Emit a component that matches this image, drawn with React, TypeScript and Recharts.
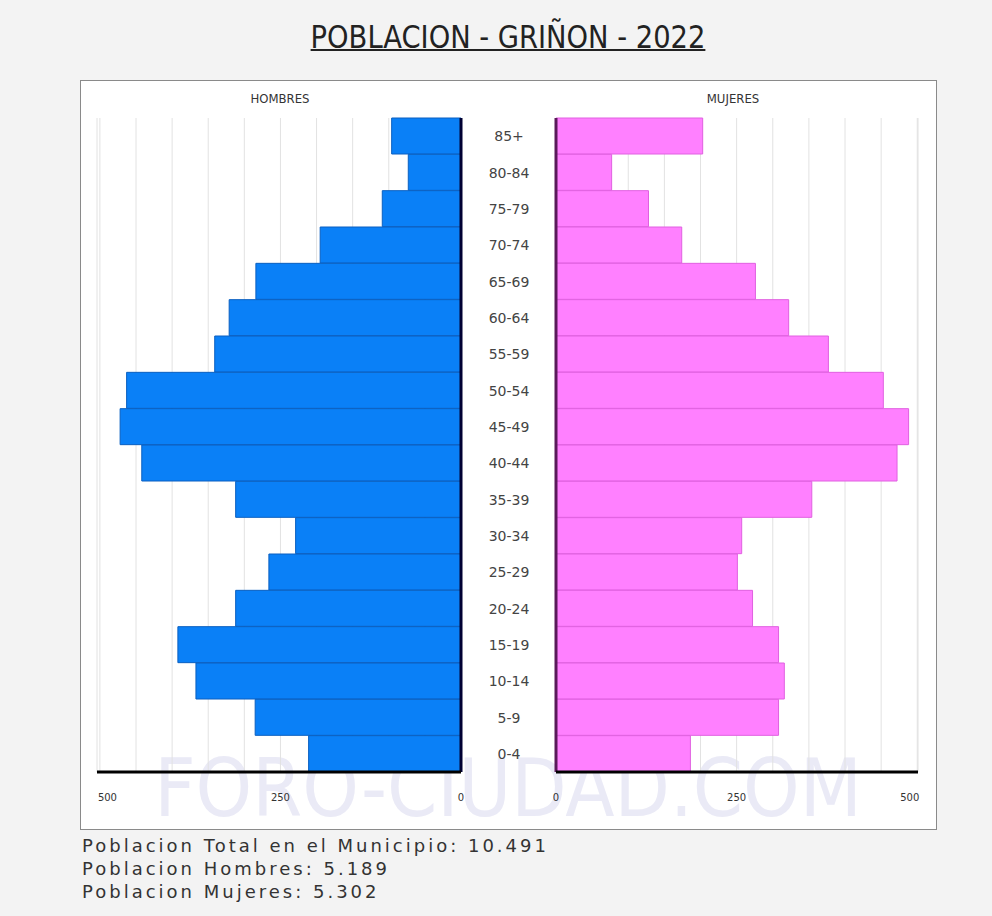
import {
  BarChart,
  Bar,
  XAxis,
  YAxis,
  CartesianGrid,
  ReferenceLine,
} from "recharts";

const ageGroups = [
  "85+", "80-84", "75-79", "70-74", "65-69", "60-64", "55-59", "50-54", "45-49",
  "40-44", "35-39", "30-34", "25-29", "20-24", "15-19", "10-14", "5-9", "0-4",
];
const hombres = [96, 73, 109, 195, 284, 321, 341, 463, 472, 442, 312, 229, 266, 312, 392, 367, 285, 211];
const mujeres = [203, 77, 128, 174, 276, 322, 377, 453, 488, 472, 354, 257, 251, 272, 308, 316, 308, 186];
const gridTicks = [0, 50, 100, 150, 200, 250, 300, 350, 400, 450, 500];
const labelTicks = [0, 250, 500];

const data = ageGroups.map((age, i) => ({ age, hombres: hombres[i], mujeres: mujeres[i] }));

const W = 992;
const H = 916;
const FONT = "'DejaVu Sans', Verdana, sans-serif";
const COND = "'DejaVu Sans Condensed', 'DejaVu Sans', sans-serif";

// small tick labels under the axis; the outer "500" is kept inside the panel
function makeTick(side: "left" | "right") {
  return (props: any) => {
    const { x, y, payload } = props;
    const v = payload.value;
    if (!labelTicks.includes(v)) return <g />;
    let anchor: "start" | "middle" | "end" = "middle";
    if (v === 500) anchor = side === "left" ? "start" : "end";
    const dx = v === 500 ? (side === "left" ? -2 : 2) : 0;
    return (
      <text x={x + dx} y={y + 21} textAnchor={anchor} fontSize={10} fill="#333" fontFamily={FONT}>
        {v}
      </text>
    );
  };
}

function AgeTick(props: any) {
  const { y, payload } = props;
  return (
    <text x={509} y={y + 5} textAnchor="middle" fontSize={14} fill="#444" fontFamily={FONT}>
      {payload.value}
    </text>
  );
}

export default function App() {
  return (
    <div
      style={{
        position: "fixed",
        left: 0,
        top: 0,
        width: W,
        height: H,
        background: "#f3f3f3",
        fontFamily: FONT,
        overflow: "hidden",
      }}
    >
      <div
        style={{
          position: "absolute",
          left: 0,
          width: 1016,
          top: 18,
          textAlign: "center",
          fontFamily: COND,
          fontSize: 32,
          color: "#222",
          textDecoration: "underline",
          textDecorationThickness: 2,
          transform: "scaleX(0.95)",
        }}
      >
        POBLACION - GRIÑON - 2022
      </div>

      <div
        style={{
          position: "absolute",
          left: 80,
          top: 80,
          width: 855,
          height: 748,
          background: "#fff",
          border: "1px solid #8a8a8a",
        }}
      />

      <div
        style={{
          position: "absolute",
          left: 80,
          top: 742,
          width: 856,
          textAlign: "center",
          fontSize: 80,
          color: "#eaeaf6",
          fontFamily: COND,
          whiteSpace: "nowrap",
        }}
      >
        FORO-CIUDAD.COM
      </div>

      <div style={{ position: "absolute", left: 230, width: 100, top: 91, textAlign: "center", fontSize: 13, color: "#333", fontFamily: COND }}>
        HOMBRES
      </div>
      <div style={{ position: "absolute", left: 683, width: 100, top: 91, textAlign: "center", fontSize: 13, color: "#333", fontFamily: COND }}>
        MUJERES
      </div>

      <div style={{ position: "absolute", left: 0, top: 0 }}>
        <BarChart
          width={W}
          height={H}
          data={data}
          layout="vertical"
          barCategoryGap={0}
          margin={{ top: 118, left: 97, right: W - 461, bottom: H - 772 - 30 }}
        >
          <CartesianGrid horizontal={false} stroke="#e2e2e2" />
          <XAxis
            type="number"
            domain={[0, 504]}
            reversed
            ticks={gridTicks}
            interval={0}
            height={30}
            tickLine={false}
            axisLine={{ stroke: "#000", strokeWidth: 3 }}
            tick={makeTick("left")}
          />
          <YAxis type="category" dataKey="age" hide />
          <Bar dataKey="hombres" fill="#0a80f7" stroke="#0a5fc0" strokeWidth={1} isAnimationActive={false} />
          <ReferenceLine x={0} stroke="#000033" strokeWidth={3} />
        </BarChart>
      </div>

      <div style={{ position: "absolute", left: 0, top: 0 }}>
        <BarChart
          width={W}
          height={H}
          data={data}
          layout="vertical"
          barCategoryGap={0}
          margin={{ top: 118, left: 556 - 93, right: W - 918, bottom: H - 772 - 30 }}
        >
          <CartesianGrid horizontal={false} stroke="#e2e2e2" />
          <XAxis
            type="number"
            domain={[0, 501]}
            ticks={gridTicks}
            interval={0}
            height={30}
            tickLine={false}
            axisLine={{ stroke: "#000", strokeWidth: 3 }}
            tick={makeTick("right")}
          />
          <YAxis
            type="category"
            dataKey="age"
            width={93}
            axisLine={false}
            tickLine={false}
            interval={0}
            tick={<AgeTick />}
          />
          <Bar dataKey="mujeres" fill="#ff80ff" stroke="#e060e0" strokeWidth={1} isAnimationActive={false} />
          <ReferenceLine x={0} stroke="#5a1a5a" strokeWidth={3} />
        </BarChart>
      </div>

      <div
        style={{
          position: "absolute",
          left: 82,
          top: 834,
          fontSize: 18,
          lineHeight: "23px",
          color: "#333",
          letterSpacing: 3,
        }}
      >
        <div>Poblacion Total en el Municipio: 10.491</div>
        <div>Poblacion Hombres: 5.189</div>
        <div>Poblacion Mujeres: 5.302</div>
      </div>
    </div>
  );
}
